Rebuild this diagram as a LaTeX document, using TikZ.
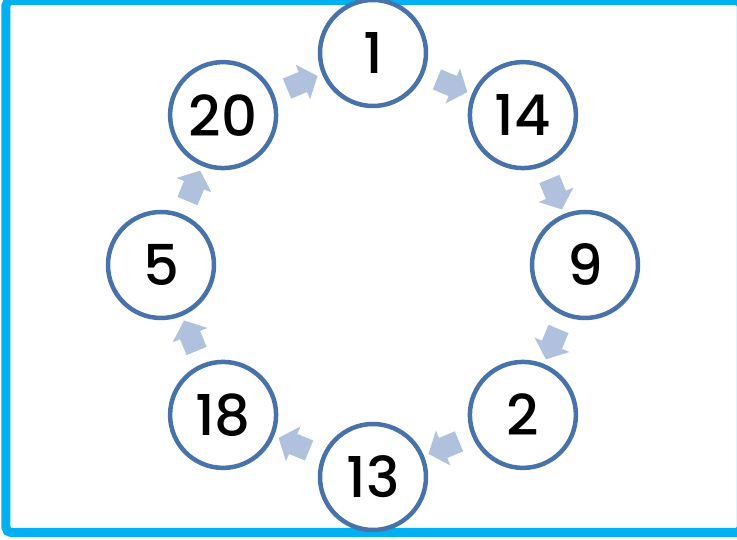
\documentclass[tikz,border=0pt]{standalone}
\usepackage{fontspec}
\setmainfont{Poppins}[UprightFont=* Medium]
\usepackage{xcolor}
\definecolor{ringblue}{RGB}{72,114,170}
\definecolor{arrowblue}{RGB}{176,193,222}
\definecolor{framecyan}{RGB}{0,176,240}
\usepackage{tikz}
\usetikzlibrary{positioning}
\usetikzlibrary{shapes.arrows,calc}

\begin{document}
\begin{tikzpicture}
\useasboundingbox (-7.46,-5.5) rectangle (7.28,5.3);
\draw[framecyan, line width=0.18cm, rounded corners=0.1cm] (-7.34,-5.35) rectangle (7.365,5.29);

\begin{scope}[every node/.style={fill=white,circle,draw=ringblue,line width=0.09cm,
              minimum size=2.12cm, inner sep=0pt, font=\fontsize{32}{34}\selectfont}]
    \node (n1) at (90:4.24) {1};
    \node (n14) at (45:4.24) {14};
    \node (n9) at (0:4.24) {9};
    \node (n2) at (-45:4.24) {2};
    \node (n13) at (-90:4.24) {13};
    \node (n18) at (-135:4.24) {18};
    \node (n5) at (180:4.24) {5};
    \node (n20) at (135:4.24) {20};
\end{scope}

\begin{scope}[every node/.style={single arrow, fill=arrowblue, inner xsep=0pt, inner ysep=0.21cm,
              minimum height=0.66cm, single arrow head extend=0.16cm,
              single arrow tip angle=100}]
    \node[rotate=22.5] (a1) at ($(n20)!0.5!(n1)$) {};
    \node[rotate=-22.5] (a2) at ($(n1)!0.5!(n14)$) {};
    \node[rotate=-67.5] (a3) at ($(n14)!0.5!(n9)$) {};
    \node[rotate=-112.5] (a4) at ($(n9)!0.5!(n2)$) {};
    \node[rotate=-157.5] (a5) at ($(n2)!0.5!(n13)$) {};
    \node[rotate=157.5] (a6) at ($(n13)!0.5!(n18)$) {};
    \node[rotate=112.5] (a7) at ($(n18)!0.5!(n5)$) {};
    \node[rotate=67.5] (a8) at ($(n5)!0.5!(n20)$) {};
\end{scope}
\end{tikzpicture}
\end{document}
